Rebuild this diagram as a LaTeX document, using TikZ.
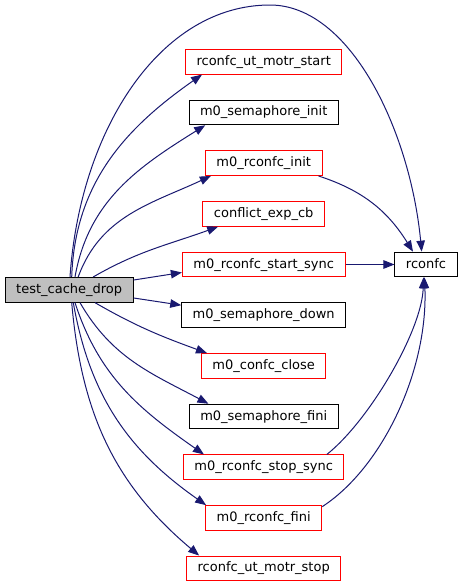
\documentclass[tikz,border=0pt]{standalone}
\usepackage{fontspec}
\setmainfont{DejaVu Sans}
\usetikzlibrary{arrows.meta,calc}
\definecolor{edgeblue}{HTML}{191970}
\definecolor{boxred}{HTML}{FF0000}
\definecolor{boxgray}{HTML}{BFBFBF}
\begin{document}
\begin{tikzpicture}[x=1pt,y=-1pt,
  fn/.style={draw=black, line width=1pt, fill=white,
    font=\fontsize{13}{15}\selectfont, minimum height=24.7pt,
    inner xsep=11pt, inner ysep=0pt, text height=9.5pt, text depth=2.5pt},
  redfn/.style={fn, draw=boxred},
  rootfn/.style={fn, fill=boxgray},
  call/.style={draw=edgeblue, line width=1pt,
    -{Triangle[length=11pt,width=8.5pt]}}]
\useasboundingbox (0,0) rectangle (463,587);

\node[rootfn] (T) at (69.2,289.8) {test\_cache\_drop};
\node[redfn] (n0) at (263.7,61.7) {rconfc\_ut\_motr\_start};
\node[fn]    (n1) at (263.7,112.4) {m0\_semaphore\_init};
\node[redfn] (n2) at (263.7,163.1) {m0\_rconfc\_init};
\node[redfn] (n3) at (263.7,213.8) {conflict\_exp\_cb};
\node[redfn] (n4) at (263.7,264.5) {m0\_rconfc\_start\_sync};
\node[fn]    (n5) at (263.7,315.2) {m0\_semaphore\_down};
\node[redfn] (n6) at (263.7,365.9) {m0\_confc\_close};
\node[fn]    (n7) at (263.7,416.6) {m0\_semaphore\_fini};
\node[redfn] (n8) at (263.7,467.3) {m0\_rconfc\_stop\_sync};
\node[redfn] (n9) at (263.7,518.0) {m0\_rconfc\_fini};
\node[redfn] (n10) at (263.7,568.4) {rconfc\_ut\_motr\_stop};
\node[fn]    (R) at (426,264.5) {rconfc};

% calls from test_cache_drop
\draw[call] ([xshift=0.8pt]T.north) .. controls (80,130) and (160,5) .. (270,5)
  .. controls (350,5) and (410,130) .. ([xshift=-4.3pt]R.north);
\draw[call] ([xshift=2.5pt]T.north) to[out=88,in=215] ([xshift=17pt]n0.south west);
\draw[call] ([xshift=5.8pt]T.north) to[out=80,in=212] ([xshift=16.7pt]n1.south west);
\draw[call] ([xshift=9pt]T.north) to[out=70,in=205] ([xshift=6pt]n2.south west);
\draw[call] ([xshift=24pt]T.north) to[out=30,in=200] ([xshift=15.7pt]n3.south west);
\draw[call] ([yshift=9.8pt]T.east) -- ([yshift=-8pt]n4.west);
\draw[call] ([yshift=-8.2pt]T.east) -- ([yshift=10pt]n5.west);
\draw[call] ([xshift=25.8pt]T.south) to[out=-30,in=160] ([xshift=6pt]n6.north west);
\draw[call] ([xshift=10.8pt]T.south) to[out=-60,in=152] ([xshift=19.7pt]n7.north west);
\draw[call] ([xshift=5.8pt]T.south) to[out=-72,in=145] ([xshift=21pt]n8.north west);
\draw[call] ([xshift=4.1pt]T.south) to[out=-80,in=145] ([xshift=1pt]n9.north west);
\draw[call] ([xshift=2.5pt]T.south) to[out=-85,in=140] ([xshift=13pt]n10.north west);

% calls into rconfc
\draw[call] ([xshift=-4pt]n2.south east) to[out=-18,in=122] ([xshift=-13pt]R.north);
\draw[call] (n4.east) -- (R.west);
\draw[call] ([xshift=-17.6pt]n8.north east) .. controls (370,420) and (422,330) .. ([xshift=-2.5pt]R.south);
\draw[call] ([yshift=-1.5pt]n9.north east) .. controls (383,467) and (428,370) .. ([xshift=-1.5pt]R.south);
\end{tikzpicture}
\end{document}
